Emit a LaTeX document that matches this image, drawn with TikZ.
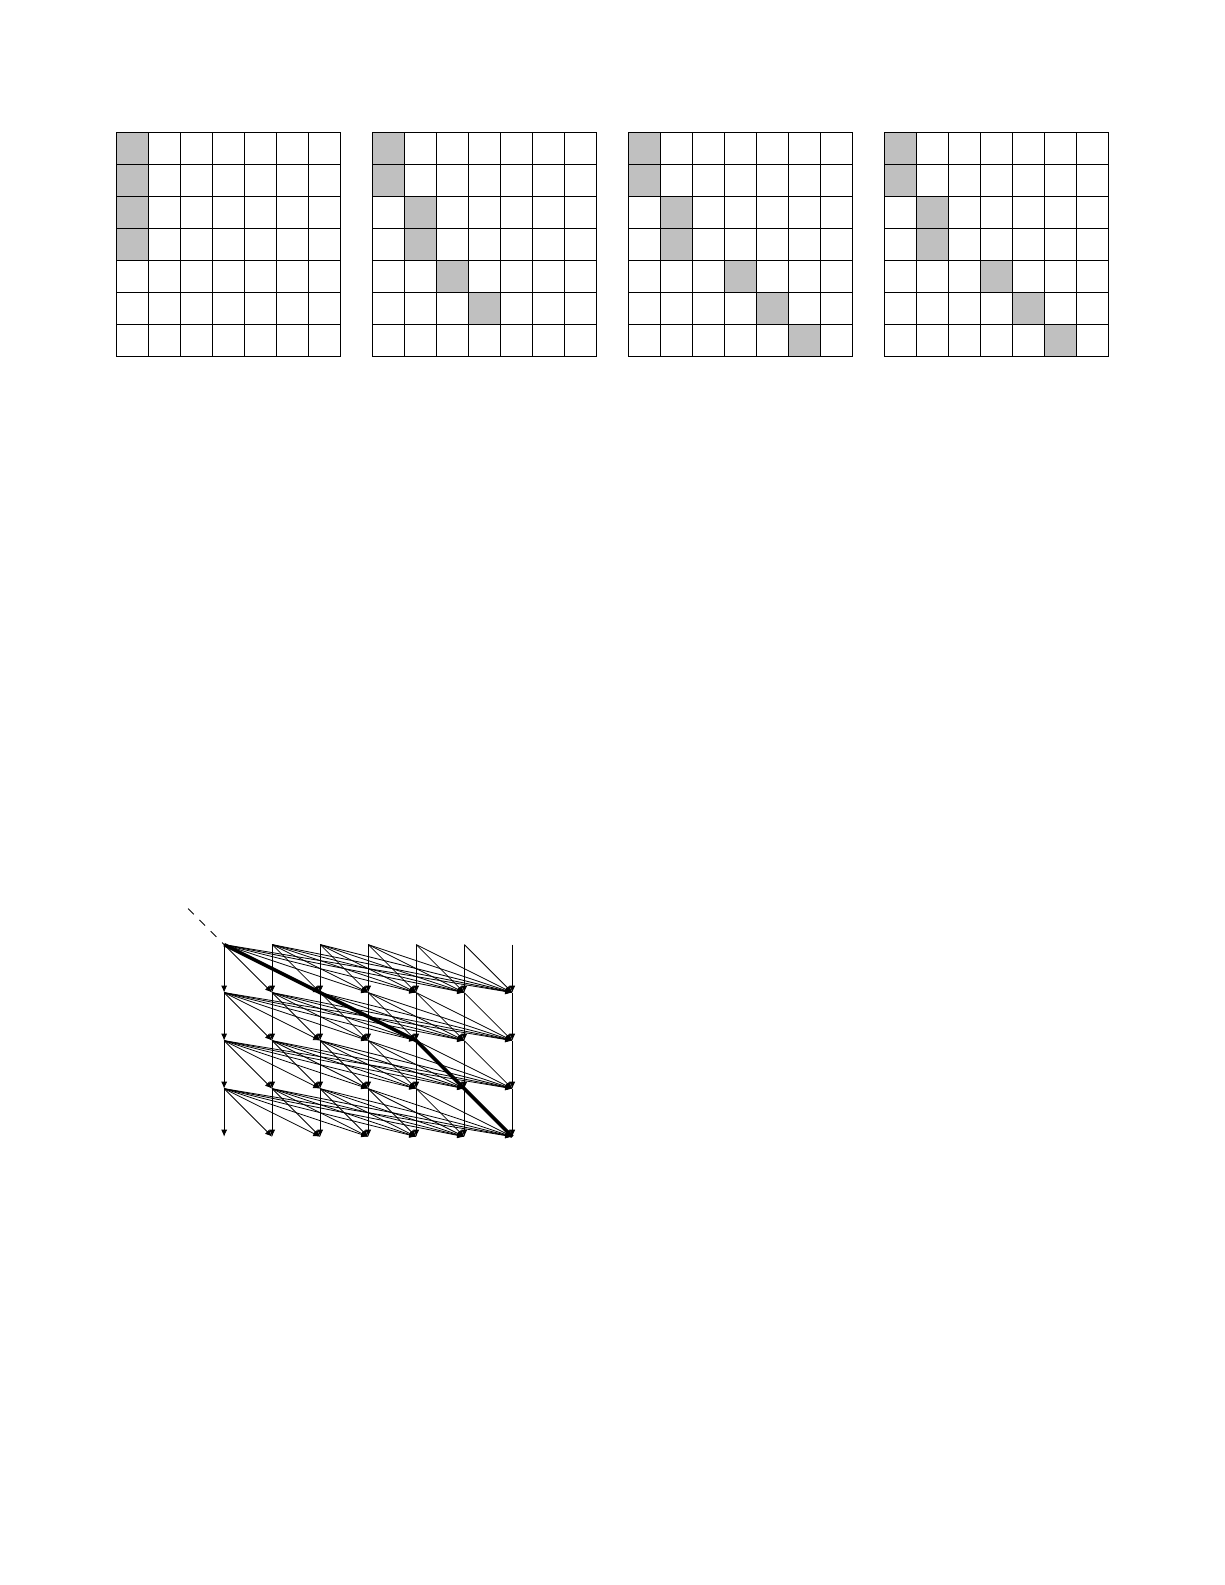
\documentclass[tikz,border=0pt]{standalone}
\usepackage{tikz}
\usetikzlibrary{arrows.meta}
\definecolor{shade-color}{RGB}{192,192,192}

\begin{document}
\begin{tikzpicture}[
	    flow/.style={-{Latex[length=3.5pt,width=3pt]}},
	    best/.style={line width=1.8pt, line join=round},
	    entry/.style={dash pattern=on 4pt off 4pt}]
	    \useasboundingbox (0,0) rectangle (612pt,792pt);
	
	    \foreach \g/\cells in {0/{0/0,1/0,2/0,3/0}, 1/{0/0,1/0,2/1,3/1,4/2,5/3}, 2/{0/0,1/0,2/1,3/1,4/3,5/4,6/5}, 3/{0/0,1/0,2/1,3/1,4/3,5/4,6/5}} {
	        \begin{scope}[shift={(58pt+\g*128pt,726pt)}, x=16pt, y=-16pt, line width=0.5pt]
	            \foreach \row/\col in \cells
	                \fill[shade-color] (\col,\row) rectangle ++(1,1);
	            \foreach \k in {1,...,6} {
	                \draw (\k,0) -- (\k,7);
	                \draw (0,\k) -- (7,\k);
	            }
	            \draw (0,0) rectangle (7,7);
	        \end{scope}
	    }
	
	    \foreach \i in {0,...,4}
	        \foreach \j in {0,...,6}
	            \coordinate (v-\i-\j) at (112pt+\j*24pt,320pt-\i*24pt);
	
	    \coordinate (start) at (94pt,338pt);
	    \draw[entry] (start) -- (v-0-0);
	
	    \foreach \i in {0,...,3} {
	        \pgfmathtruncatemacro\nxt{\i+1}
	        \foreach \j in {0,...,6}
	            \foreach \m in {\j,...,6}
	                \draw[flow] (v-\i-\j) -- (v-\nxt-\m);
	    }
	
	    \draw[best] (v-0-0) -- (v-1-2) -- (v-2-4) -- (v-3-5) -- (v-4-6);
	\end{tikzpicture}
\end{document}
